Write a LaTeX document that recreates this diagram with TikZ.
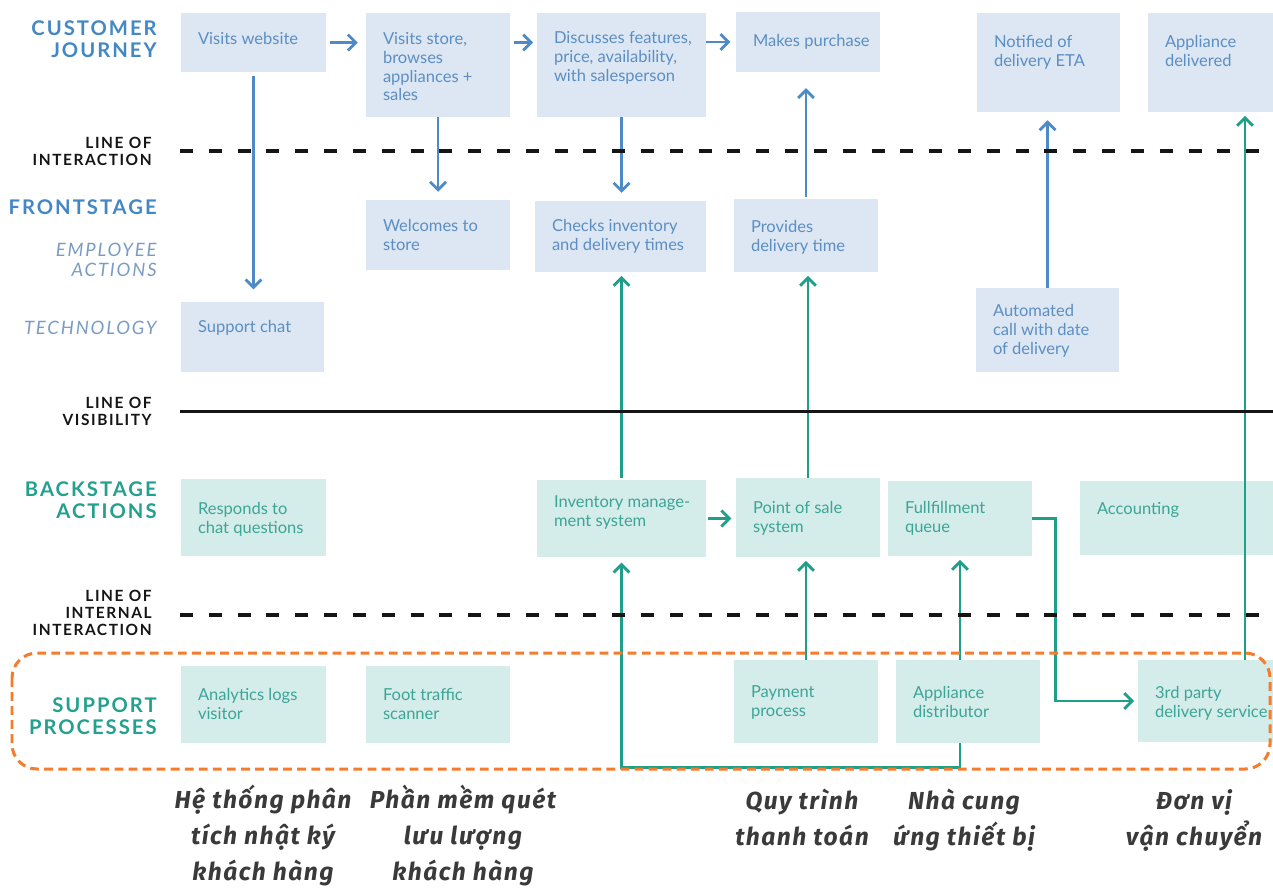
\documentclass[tikz,border=0pt]{standalone}
\usepackage{fontspec}
\setmainfont{Lato}
\newfontfamily\headfont[LetterSpace=10]{Lato}
\newfontfamily\vnfont[LetterSpace=6]{Fira Sans}
\usetikzlibrary{arrows.meta,fit}

\definecolor{bluefill}{HTML}{DCE7F3}
\definecolor{bluetext}{HTML}{5C8EC3}
\definecolor{tealfill}{HTML}{D4ECEA}
\definecolor{tealtext}{HTML}{3CA596}
\definecolor{headblue}{HTML}{4387C4}
\definecolor{headteal}{HTML}{23A08E}
\definecolor{softblue}{HTML}{7A9CC4}
\definecolor{arrowblue}{HTML}{4E8AC6}
\definecolor{arrowteal}{HTML}{1F9E8A}
\definecolor{lineorange}{HTML}{F47C2C}
\definecolor{vngray}{HTML}{3A3A3A}
\definecolor{linedark}{HTML}{151515}

\tikzset{
  boxtext/.style={inner sep=0pt, align=left, font=\fontsize{9.4}{10.8}\selectfont},
  bighead/.style={inner sep=0pt, align=right, anchor=north east,
    font=\headfont\bfseries\fontsize{11.5}{13}\selectfont},
  linehead/.style={inner sep=0pt, align=right, anchor=north east, text=linedark,
    font=\headfont\bfseries\fontsize{8.8}{9.6}\selectfont},
  softhead/.style={inner sep=0pt, align=right, anchor=north east, text=softblue,
    font=\headfont\itshape\fontsize{10.5}{11.3}\selectfont},
  vntext/.style={inner sep=0pt, align=center, anchor=north, text=vngray,
    font=\vnfont\bfseries\itshape\fontsize{14}{20.4}\selectfont},
  barrow/.style={draw=arrowblue, line width=1.6pt, -{Straight Barb[length=4.5pt,width=9pt]}},
  tarrow/.style={draw=arrowteal, line width=1.6pt, -{Straight Barb[length=4.5pt,width=9pt]}},
  dashline/.style={draw=linedark, line width=2.2pt, dash pattern=on 7.4pt off 9pt},
  solidline/.style={draw=linedark, line width=1.7pt},
  supportframe/.style={draw=lineorange, line width=1.7pt, dash pattern=on 5pt off 3pt,
    rounded corners=0.5cm},
}

% \bx[top offset]{name}{x1}{y1}{x2}{y2}{blue|teal}{text}
\newcommand\bx[8][20]{%
  \node[fill=#7fill, inner sep=0pt, fit={(#3,#4) (#5,#6)}] (#2) {};
  \node[boxtext, text=#7text, anchor=north west] (#2-t) at ([shift={(17,#1)}]#2.north west) {#8};
}

\begin{document}
\begin{tikzpicture}[x=0.02cm, y=-0.02cm]
\fill[white] (0,0) rectangle (1273,887);
\useasboundingbox (0,0) rectangle (1273,887);

% row headings
\node[bighead, text=headblue] (hcj) at (157,20) {CUSTOMER\\JOURNEY};
\node[linehead] (hli) at (152,137) {LINE OF\\INTERACTION};
\node[bighead, text=headblue] (hfs) at (157,199) {FRONTSTAGE};
\node[softhead] (hea) at (157,243) {EMPLOYEE\\ACTIONS};
\node[softhead] (hte) at (157,321) {TECHNOLOGY};
\node[linehead] (hlv) at (152,397) {LINE OF\\VISIBILITY};
\node[bighead, text=headteal] (hba) at (157,481) {BACKSTAGE\\ACTIONS};
\node[linehead] (hlii) at (152,590) {LINE OF\\INTERNAL\\INTERACTION};
\node[bighead, text=headteal] (hsp) at (157,697) {SUPPORT\\PROCESSES};

% customer journey
\bx[19]{web}{181}{13}{326}{72}{blue}{Visits website}
\bx[19]{store}{366}{13}{510}{117}{blue}{Visits store,\\browses\\appliances +\\sales}
\bx[18]{disc}{537}{13}{706}{117}{blue}{Discusses features,\\price, availability,\\with salesperson}
\bx[22]{purch}{736}{12}{880}{72}{blue}{Makes purchase}
\bx[22]{notif}{977}{13}{1120}{112}{blue}{Notified of\\delivery ETA}
\bx[22]{deliv}{1148}{13}{1273}{112}{blue}{Appliance\\delivered}

% frontstage
\bx[19]{welc}{366}{200}{510}{270}{blue}{Welcomes to\\store}
\bx[18]{checks}{535}{201}{706}{272}{blue}{Checks inventory\\and delivery times}
\bx[21]{prov}{734}{199}{878}{272}{blue}{Provides\\delivery time}
\bx[16]{auto}{976}{288}{1119}{372}{blue}{Automated\\call with date\\of delivery}
\bx[18]{chat}{181}{302}{324}{372}{blue}{Support chat}

% backstage
\bx[23]{resp}{181}{479}{326}{556}{teal}{Responds to\\chat questions}
\bx[16]{inv}{537}{480}{706}{557}{teal}{Inventory manage-\\ment system}
\bx[23]{pos}{736}{478}{880}{557}{teal}{Point of sale\\system}
\bx[20]{fq}{888}{481}{1032}{556}{teal}{Fullfillment\\queue}
\bx[21]{acct}{1080}{481}{1273}{555}{teal}{Accounting}

% support processes
\bx[22]{anal}{181}{666}{326}{743}{teal}{Analytics logs\\visitor}
\bx[22]{foot}{366}{666}{510}{743}{teal}{Foot traffic\\scanner}
\bx[26]{pay}{734}{660}{878}{743}{teal}{Payment\\process}
\bx[26]{dist}{896}{660}{1040}{743}{teal}{Appliance\\distributor}
\bx[26]{third}{1138}{660}{1273}{742}{teal}{3rd party\\delivery service}

% customer-side flow
\draw[barrow, shorten <=2pt, shorten >=4.5pt] (web.east) -- (web.east -| store.west);
\draw[barrow, shorten <=2pt, shorten >=2pt] (store.east |- web.east) -- (disc.west |- web.east);
\draw[barrow, shorten >=3pt] (disc.east |- purch.west) -- (purch.west);
\draw[barrow, shorten <=2pt, shorten >=7pt] (web.south) -- (web.south |- chat.north);
\draw[barrow, shorten >=4.5pt] (store.south) -- (store.south |- welc.north);
\draw[barrow, shorten >=4.5pt] (disc.south) -- (disc.south |- checks.north);
\draw[barrow, shorten <=1pt, shorten >=9pt] (prov.north) -- (prov.north |- purch.south);
\draw[barrow, shorten >=4.5pt] (auto.north) -- (auto.north |- notif.south);

% backstage and support flow
\coordinate (dlvx) at (1245,0);
\draw[tarrow, shorten <=1pt, shorten >=2pt] (inv.north) -- (inv.north |- checks.south);
\draw[tarrow, shorten >=2pt] (pos.north) -- (pos.north |- prov.south);
\draw[tarrow, shorten <=1pt, shorten >=2.5pt] (inv.east) -- (inv.east -| pos.west);
\draw[tarrow, shorten >=2pt] (pay.north) -- (pay.north |- pos.south);
\draw[tarrow, shorten >=2pt] (dist.north -| fq.south) -- (fq.south);
\draw[tarrow, shorten >=3pt] (dist.south -| fq.south) -- ++(0,24) -| (inv.south);
\draw[tarrow, shorten >=2pt] (fq.east) -- ++(23,0) |- (third.west);
\draw[tarrow, shorten >=2pt] (third.north -| dlvx) -- (deliv.south -| dlvx);

% separating lines
\draw[dashline] (180,151) -- (1273,151);
\draw[solidline] (180,411) -- (1273,411);
\draw[dashline] (180,615) -- (1273,615);
\draw[supportframe] (12,653) rectangle (1270,769);

% translated captions
\node[vntext] (v1) at (263,785) {Hệ thống phân\\tích nhật ký\\khách hàng};
\node[vntext] (v2) at (463,785) {Phần mềm quét\\lưu lượng\\khách hàng};
\node[vntext] (v3) at (802,789) {Quy trình\\thanh toán};
\node[vntext] (v4) at (964,789) {Nhà cung\\ứng thiết bị};
\node[vntext] (v5) at (1194,789) {Đơn vị\\vận chuyển};
\end{tikzpicture}
\end{document}
